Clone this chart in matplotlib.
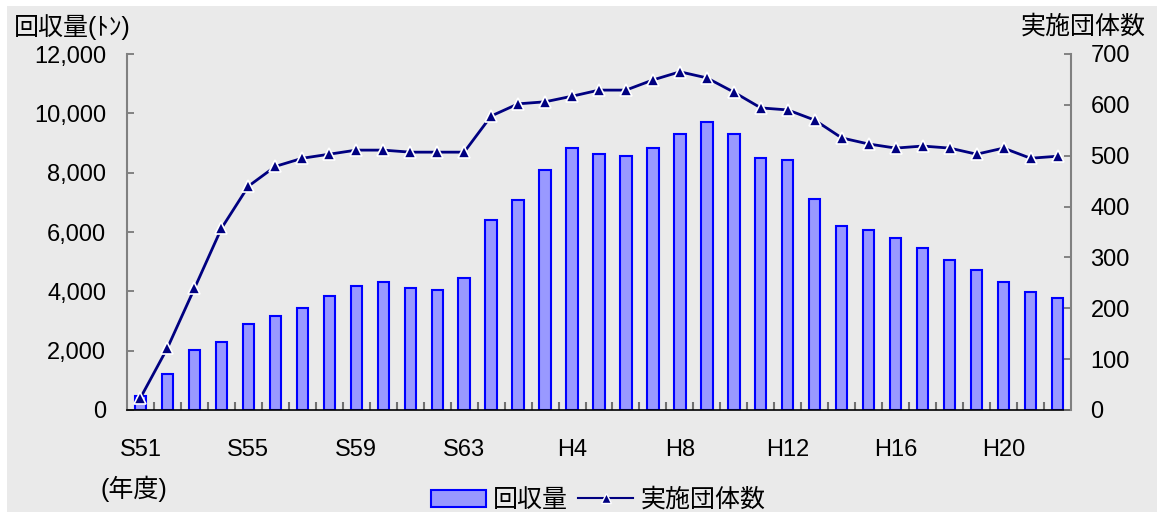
import matplotlib
matplotlib.use("Agg")
import matplotlib.pyplot as plt
from matplotlib.patches import Rectangle
from matplotlib.lines import Line2D
from matplotlib.ticker import FuncFormatter, FixedLocator

plt.rcParams["font.family"] = ["Liberation Sans", "Noto Sans CJK JP", "DejaVu Sans"]

# fiscal years S51 (1976) .. H22 (2010)
years = [f"S{n}" for n in range(51, 64)] + [f"H{n}" for n in range(1, 23)]
tick_labels = ["S51", "S55", "S59", "S63", "H4", "H8", "H12", "H16", "H20"]

# 回収量 (tons)
tonnage = [470, 1220, 2020, 2290, 2900, 3170, 3440, 3840, 4180, 4310,
           4110, 4040, 4450, 6400, 7070, 8080, 8820, 8620, 8550, 8820,
           9290, 9700, 9290, 8480, 8420, 7100, 6200, 6060, 5790, 5450,
           5050, 4710, 4310, 3970, 3770]

# 実施団体数
groups = [24, 122, 239, 357, 440, 479, 495, 503, 511, 511,
          507, 507, 507, 578, 602, 606, 617, 629, 629, 649,
          665, 653, 625, 594, 590, 570, 535, 523, 515, 519,
          515, 503, 515, 495, 499]

BG = "#eaeaea"
W, H = 1157, 512
JP = 18

fig = plt.figure(figsize=(W / 100, H / 100), dpi=100, facecolor="white")
fig.patches.append(Rectangle((7 / W, 0), 1, 1 - 6 / H, transform=fig.transFigure,
                             facecolor=BG, edgecolor="none", zorder=-10))

ax = fig.add_axes([127 / W, (H - 410) / H, 944 / W, 356 / H])
ax.set_facecolor("none")
x = list(range(len(years)))

ax.bar(x, tonnage, width=0.42, color="#9999ff", edgecolor="#0000ff", linewidth=1.5, zorder=2)
ax.set_xlim(-0.5, len(years) - 0.5)
ax.set_ylim(0, 12000)
ax.set_yticks(range(0, 12001, 2000))
ax.yaxis.set_major_formatter(FuncFormatter(lambda v, p: f"{int(v):,}"))

ax.xaxis.set_major_locator(FixedLocator([years.index(t) for t in tick_labels]))
ax.set_xticklabels(tick_labels)
ax.xaxis.set_minor_locator(FixedLocator([i + 0.5 for i in range(len(years) - 1)]))
ax.tick_params(axis="x", which="major", length=0, pad=21, labelsize=17)
ax.tick_params(axis="x", which="minor", direction="in", length=6, width=1.5, color="#707070")
ax.tick_params(axis="y", direction="in", length=5, width=1.2, color="#707070", pad=15, labelsize=17)

for side in ("top", "right"):
    ax.spines[side].set_visible(False)
ax.spines["left"].set_color("#808080")
ax.spines["left"].set_linewidth(1.5)
ax.spines["bottom"].set_color("#000000")
ax.spines["bottom"].set_linewidth(1.2)

ax2 = ax.twinx()
ax2.plot(x, groups, color="#000080", linewidth=2, marker="^", markersize=9,
         markerfacecolor="#000080", markeredgecolor="white", markeredgewidth=1.2, zorder=3)
ax2.set_ylim(0, 700)
ax2.set_yticks(range(0, 701, 100))
ax2.tick_params(axis="y", direction="in", length=5, width=1.2, color="#707070", pad=14, labelsize=17)
for side in ("top", "left", "bottom"):
    ax2.spines[side].set_visible(False)
ax2.spines["right"].set_color("#808080")
ax2.spines["right"].set_linewidth(1.5)

fig.text(14 / W, 1 - 27 / H, "回収量(ﾄﾝ)", fontsize=JP, ha="left", va="center")
fig.text(1146 / W, 1 - 27 / H, "実施団体数", fontsize=JP, ha="right", va="center")
fig.text(100 / W, 1 - 489 / H, "(年度)", fontsize=JP, ha="left", va="center")

handles = [
    Rectangle((0, 0), 1, 1, facecolor="#9999ff", edgecolor="#0000ff", linewidth=1.5),
    Line2D([], [], color="#000080", linewidth=1.5, marker="^", markersize=7,
           markerfacecolor="#000080", markeredgecolor="white"),
]
fig.legend(handles, ["回収量", "実施団体数"], loc="center", bbox_to_anchor=(598 / W, 1 - 500 / H),
           ncol=2, frameon=False, fontsize=JP, handlelength=2.2, handletextpad=0.3,
           columnspacing=0.4, borderpad=0)

fig.savefig("out.png", dpi=100, facecolor="white")
